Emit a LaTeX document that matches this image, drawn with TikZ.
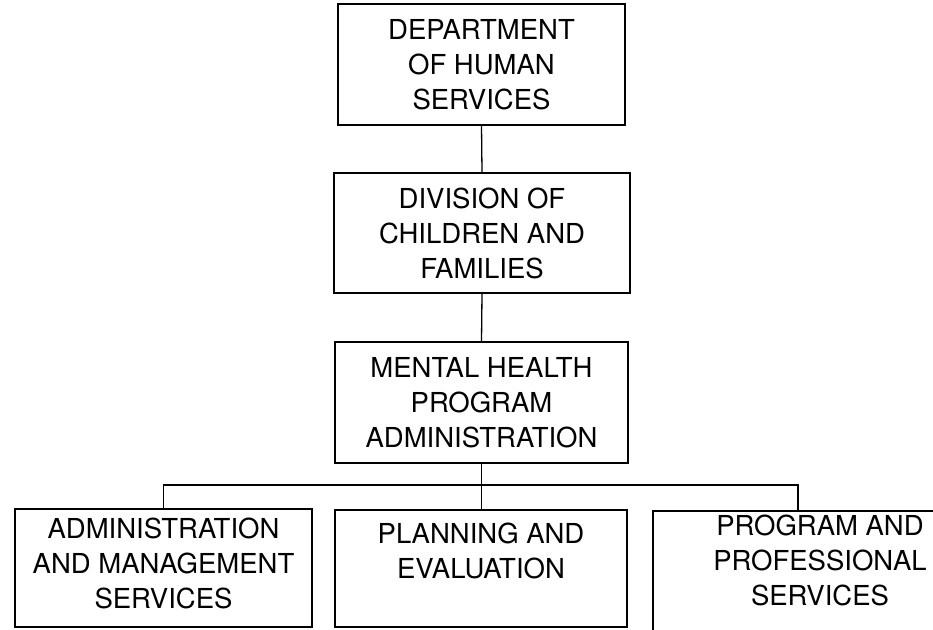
\documentclass[tikz,border=0pt]{standalone}
\usepackage{fontspec}
\setmainfont{TeX Gyre Heros}
\begin{document}
\begin{tikzpicture}[x=1pt,y=-1pt,
  orgbox/.style={draw=black,line width=1.3pt,inner sep=0pt,align=center,
    font=\fontsize{27.5}{35}\selectfont},
  link/.style={draw=black,line width=1.3pt}]
\useasboundingbox[fill=white] (0,0) rectangle (933,629);

\node[orgbox,minimum width=287pt,minimum height=121pt] (dhs) at (481.5,64.5)
  {DEPARTMENT\\OF HUMAN\\SERVICES};
\node[orgbox,minimum width=296pt,minimum height=120pt] (dcf) at (482,233)
  {DIVISION OF\\CHILDREN AND\\FAMILIES};
\node[orgbox,minimum width=293pt,minimum height=121pt] (mhpa) at (481.5,402.5)
  {MENTAL HEALTH\\PROGRAM\\ADMINISTRATION};

\node[orgbox,minimum width=297pt,minimum height=118pt] (ams) at (163.5,568)
  {ADMINISTRATION\\AND MANAGEMENT\\SERVICES\rule[-9pt]{0pt}{9pt}};
\node[orgbox,minimum width=292pt,minimum height=117pt] (pe) at (481,568.5)
  {PLANNING AND\\EVALUATION\\\mbox{}};
\node[orgbox,minimum width=334pt,minimum height=122pt] (pps) at (820,572)
  {PROGRAM AND\\PROFESSIONAL\\SERVICES\rule[-24pt]{0pt}{24pt}};

\coordinate (busL) at (163.5,485);
\coordinate (busR) at (798,485);

\draw[link] (dhs.south) -- (dcf.north);
\draw[link] (dcf.south) -- (mhpa.north);
\draw[link] (mhpa.south) -- (mhpa.south |- pe.north);
\draw[link] (ams.north) -- (busL) -- (busR) -- (busR |- pps.north);
\end{tikzpicture}
\end{document}
